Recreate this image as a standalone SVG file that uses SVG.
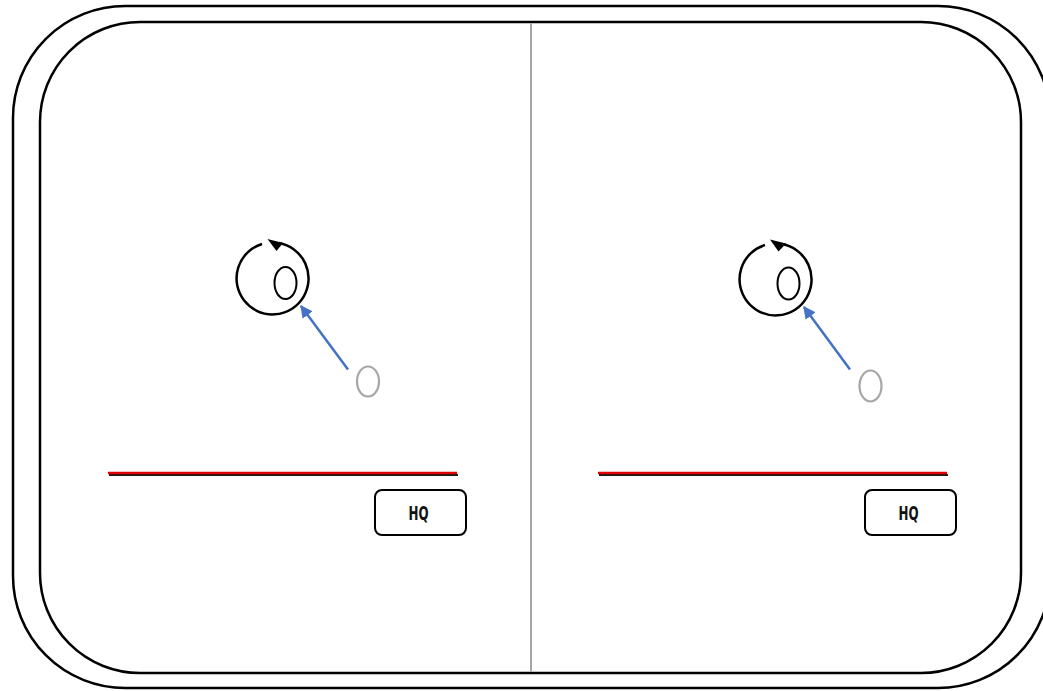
<svg xmlns="http://www.w3.org/2000/svg" width="1043" height="691" viewBox="0 0 1043 691">
  <defs>
    <marker id="blueHead" viewBox="0 0 10 10" refX="9" refY="5" markerWidth="5" markerHeight="5" orient="auto" markerUnits="strokeWidth">
      <path d="M0,0 L10,5 L0,10 z" fill="#4472C4"/>
    </marker>
    <style>
      .frame { fill: none; stroke: #000; stroke-width: 2.5; }
      .divider { stroke: #a6a6a6; stroke-width: 2; }
      .ring { fill: none; stroke: #000; stroke-width: 2.5; }
      .core { fill: #fff; stroke: #000; stroke-width: 2; }
      .ghost { fill: #fff; stroke: #a6a6a6; stroke-width: 2.2; }
      .link { stroke: #4472C4; stroke-width: 2.5; fill: none; marker-end: url(#blueHead); }
      .shadow { stroke: #1a1a1a; stroke-width: 2; }
      .line { stroke: #e00000; stroke-width: 2.5; }
      .box { fill: #fff; stroke: #000; stroke-width: 2; }
      .label { font-family: "Liberation Sans Narrow", "DejaVu Sans Condensed", "Liberation Sans", sans-serif; font-weight: bold; font-size: 20px; fill: #111; }
    </style>
  </defs>

  <!-- outer and inner rounded frames -->
  <g id="frame">
    <rect class="frame" x="13" y="6" width="1037" height="682" rx="112" ry="112"/>
    <rect class="frame" x="40" y="22" width="981" height="651" rx="100" ry="100"/>
    <line class="divider" x1="531" y1="23" x2="531" y2="672"/>
  </g>

  <!-- left panel -->
  <g id="left-rotor">
    <path class="ring" d="M262,244 A36,36 0 1 0 279,243"/>
    <path d="M267.5,239 L283,243 L276.5,251 z" fill="#000"/>
    <ellipse class="core" cx="285.5" cy="283" rx="11" ry="16"/>
  </g>
  <g id="left-marker">
    <ellipse class="ghost" cx="368" cy="381.5" rx="11" ry="15"/>
  </g>
  <g id="left-line">
    <line class="shadow" x1="109" y1="475" x2="458" y2="475"/>
    <line class="line" x1="108" y1="473" x2="457" y2="473"/>
  </g>
  <g id="left-hq">
    <rect class="box" x="375" y="490" width="91" height="45" rx="7" ry="7"/>
    <text class="label" x="418.5" y="519.5" text-anchor="middle" textLength="20" lengthAdjust="spacingAndGlyphs">HQ</text>
  </g>

  <!-- right panel -->
  <g id="right-rotor">
    <path class="ring" d="M765,245 A36,36 0 1 0 782,244"/>
    <path d="M770,239.5 L786,243.5 L778.5,251.5 z" fill="#000"/>
    <ellipse class="core" cx="788.5" cy="283.5" rx="11" ry="16"/>
  </g>
  <g id="right-marker">
    <ellipse class="ghost" cx="870.5" cy="386" rx="11" ry="15.5"/>
  </g>
  <g id="right-line">
    <line class="shadow" x1="599" y1="475" x2="948" y2="475"/>
    <line class="line" x1="598" y1="473" x2="947" y2="473"/>
  </g>
  <g id="right-hq">
    <rect class="box" x="865" y="490" width="91" height="45" rx="7" ry="7"/>
    <text class="label" x="908.5" y="519.5" text-anchor="middle" textLength="20" lengthAdjust="spacingAndGlyphs">HQ</text>
  </g>

  <!-- connectors -->
  <g id="connectors">
    <line class="link" x1="348" y1="369.5" x2="301" y2="306"/>
    <line class="link" x1="850" y1="369.5" x2="804" y2="307"/>
  </g>
</svg>
